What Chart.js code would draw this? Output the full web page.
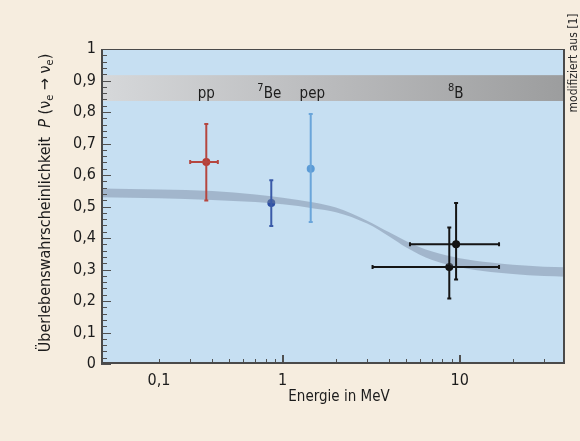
<!DOCTYPE html>
<html>
<head>
<meta charset="utf-8">
<script src="https://cdn.jsdelivr.net/npm/chart.js@4.4.0/dist/chart.umd.min.js"></script>
<style>
  html, body { margin: 0; padding: 0; background: #f6eddf; }
  #wrap { width: 580px; height: 441px; }
</style>
</head>
<body>
<div id="wrap"><canvas id="chart" width="580" height="441"></canvas></div>
<script>
// measured neutrino sources
const sourceNames = ['pp', '7Be', 'pep', '8B', '8B'];
const energy = [0.37, 0.862, 1.44, 9.55, 8.74];
const energyLow = [0.30, null, null, 5.24, 3.22];
const energyHigh = [0.43, null, null, 16.7, 16.7];
const survival = [0.641, 0.511, 0.62, 0.38, 0.308];
const survivalLow = [0.519, 0.438, 0.451, 0.268, 0.208];
const survivalHigh = [0.762, 0.583, 0.794, 0.511, 0.433];

// theory band (MSW prediction)
const theoryE = [0.094, 0.2, 0.4, 0.7, 1, 1.5, 2, 3, 4, 5, 7, 10, 15, 20, 30, 39.4];
const theoryHigh = [0.557, 0.554, 0.549, 0.538, 0.528, 0.513, 0.497, 0.455, 0.418, 0.39, 0.357, 0.336, 0.322, 0.315, 0.309, 0.307];
const theoryLow = [0.529, 0.526, 0.521, 0.514, 0.507, 0.494, 0.482, 0.446, 0.405, 0.37, 0.33, 0.307, 0.292, 0.286, 0.279, 0.277];

// grey source band at top and its labels
const bandLow = 0.835;
const bandHigh = 0.917;
const bandLabels = ['pp', '7Be', 'pep', '8B'];
const bandLabelE = [0.37, 0.84, 1.47, 9.5];

// axis ticks (as printed in the figure)
const xTickValues = [0.2, 1, 10];
const xTickLabels = ['0,1', '1', '10'];
const xMinorTicks = [0.2, 0.3, 0.4, 0.5, 0.6, 0.7, 0.8, 0.9, 2, 3, 4, 5, 6, 7, 8, 9, 20, 30];
const xMajorTicks = [1, 10];

const FONT = "'Liberation Sans Narrow', 'DejaVu Sans Condensed', sans-serif";
const pointColors = ['#b83a32', '#2d4ea3', '#5b9bd6', '#111111', '#111111'];
const barColors = ['#b5463f', '#3a5aa8', '#6aa5da', '#151515', '#151515'];

Chart.defaults.font.family = FONT;

const decor = {
  id: 'decor',
  beforeDraw(chart) {
    const { ctx, chartArea: a } = chart;
    ctx.save();
    ctx.fillStyle = '#c6dff2';
    ctx.fillRect(a.left, a.top, a.right - a.left, a.bottom - a.top);
    ctx.restore();
  },
  beforeDatasetsDraw(chart) {
    const { ctx, chartArea: a, scales } = chart;
    const y1 = scales.y.getPixelForValue(bandHigh);
    const y2 = scales.y.getPixelForValue(bandLow);
    const g = ctx.createLinearGradient(a.left, 0, a.right, 0);
    g.addColorStop(0, '#d6d8da');
    g.addColorStop(0.45, '#bcbdbf');
    g.addColorStop(1, '#9c9d9e');
    ctx.save();
    ctx.fillStyle = g;
    ctx.fillRect(a.left, y1, a.right - a.left - 2, y2 - y1);
    // labels
    ctx.fillStyle = '#1c1c1c';
    ctx.textBaseline = 'alphabetic';
    const base = (y1 + y2) / 2 + 10;
    bandLabels.forEach((lab, i) => {
      const px = scales.x.getPixelForValue(bandLabelE[i]);
      const m = lab.match(/^(\d*)(.*)$/);
      ctx.font = `11px ${FONT}`;
      const w1 = ctx.measureText(m[1]).width;
      ctx.font = `15px ${FONT}`;
      const w2 = ctx.measureText(m[2]).width;
      let x = px - (w1 + w2) / 2;
      if (m[1]) {
        ctx.font = `11px ${FONT}`;
        ctx.fillText(m[1], x, base - 7);
        x += w1;
      }
      ctx.font = `15px ${FONT}`;
      ctx.fillText(m[2], x, base);
    });
    ctx.restore();
  },
  afterDatasetDraw(chart, args) {
    if (args.index !== 1) return;
    const { ctx, scales } = chart;
    ctx.save();
    ctx.lineWidth = 2;
    energy.forEach((e, i) => {
      ctx.strokeStyle = barColors[i];
      const px = scales.x.getPixelForValue(e);
      const py = scales.y.getPixelForValue(survival[i]);
      const yt = scales.y.getPixelForValue(survivalHigh[i]);
      const yb = scales.y.getPixelForValue(survivalLow[i]);
      ctx.beginPath();
      ctx.moveTo(px, yt); ctx.lineTo(px, yb);
      ctx.moveTo(px - 2, yt); ctx.lineTo(px + 2, yt);
      ctx.moveTo(px - 2, yb); ctx.lineTo(px + 2, yb);
      if (energyLow[i] != null) {
        const xl = scales.x.getPixelForValue(energyLow[i]);
        const xr = scales.x.getPixelForValue(energyHigh[i]);
        ctx.moveTo(xl, py); ctx.lineTo(xr, py);
        ctx.moveTo(xl, py - 2); ctx.lineTo(xl, py + 2);
        ctx.moveTo(xr, py - 2); ctx.lineTo(xr, py + 2);
      }
      ctx.stroke();
    });
    ctx.restore();
  },
  afterDraw(chart) {
    const { ctx, chartArea: a, scales } = chart;
    ctx.save();
    // tick marks pointing inward
    ctx.strokeStyle = '#505050';
    ctx.lineWidth = 1;
    ctx.beginPath();
    for (let k = 0; k <= 50; k++) {
      const py = Math.round(scales.y.getPixelForValue(k * 0.02)) + 0.5;
      const len = k % 5 === 0 ? 10 : 6;
      ctx.moveTo(a.left, py); ctx.lineTo(a.left + len, py);
    }
    xMinorTicks.forEach(v => {
      const px = Math.round(scales.x.getPixelForValue(v)) + 0.5;
      ctx.moveTo(px, a.bottom); ctx.lineTo(px, a.bottom - 5);
    });
    ctx.stroke();
    ctx.lineWidth = 2;
    ctx.beginPath();
    xMajorTicks.forEach(v => {
      const px = Math.round(scales.x.getPixelForValue(v));
      ctx.moveTo(px, a.bottom); ctx.lineTo(px, a.bottom - 9);
    });
    ctx.stroke();
    // frame
    ctx.strokeStyle = '#4a4a4a';
    ctx.lineWidth = 1;
    ctx.strokeRect(a.left + 0.5, a.top + 0.5, a.right - a.left - 1, a.bottom - a.top - 1);
    ctx.lineWidth = 2;
    ctx.beginPath();
    ctx.moveTo(a.left + 1, a.top); ctx.lineTo(a.left + 1, a.bottom);
    ctx.moveTo(a.left, a.bottom - 1); ctx.lineTo(a.right, a.bottom - 1);
    ctx.moveTo(a.right - 1, a.top); ctx.lineTo(a.right - 1, a.bottom);
    ctx.stroke();

    // axis titles
    ctx.fillStyle = '#1c1c1c';
    ctx.textBaseline = 'middle';
    ctx.textAlign = 'center';
    ctx.font = `15px ${FONT}`;
    ctx.fillText('Energie in MeV', 339, 397);

    ctx.textAlign = 'left';
    const parts = [
      { t: 'Überlebenswahrscheinlichkeit', f: `16px ${FONT}`, dy: 0 },
      { t: '  ', f: `16px ${FONT}`, dy: 0 },
      { t: 'P', f: `italic 16px ${FONT}`, dy: 0 },
      { t: ' (ν', f: `16px ${FONT}`, dy: 0 },
      { t: 'e', f: `11px ${FONT}`, dy: 4 },
      { t: ' → ν', f: `16px ${FONT}`, dy: 0 },
      { t: 'e', f: `11px ${FONT}`, dy: 4 },
      { t: ')', f: `16px ${FONT}`, dy: 0 }
    ];
    let total = 0;
    parts.forEach(p => { ctx.font = p.f; p.w = ctx.measureText(p.t).width; total += p.w; });
    ctx.translate(46, 203);
    ctx.rotate(-Math.PI / 2);
    let x = -total / 2;
    parts.forEach(p => { ctx.font = p.f; ctx.fillText(p.t, x, p.dy); x += p.w; });
    ctx.restore();

    // source note at the right edge
    ctx.save();
    ctx.fillStyle = '#2a2a2a';
    ctx.font = `12px ${FONT}`;
    ctx.textAlign = 'center';
    ctx.textBaseline = 'middle';
    ctx.translate(574, 63);
    ctx.rotate(-Math.PI / 2);
    ctx.fillText('modifiziert aus [1]', 0, 0);
    ctx.restore();
  }
};

const pointSets = energy.map((e, i) => ({
  label: sourceNames[i],
  data: [{ x: e, y: survival[i] }],
  pointRadius: 4,
  pointHoverRadius: 4,
  pointBackgroundColor: pointColors[i],
  pointBorderWidth: 0,
  showLine: false
}));

new Chart(document.getElementById('chart'), {
  type: 'scatter',
  data: {
    datasets: [
      {
        label: 'theory high',
        data: theoryE.map((e, i) => ({ x: e, y: theoryHigh[i] })),
        showLine: true, borderWidth: 0, pointRadius: 0, fill: false,
        cubicInterpolationMode: 'monotone'
      },
      {
        label: 'theory low',
        data: theoryE.map((e, i) => ({ x: e, y: theoryLow[i] })),
        showLine: true, borderWidth: 0, pointRadius: 0, fill: '-1',
        backgroundColor: 'rgba(118,134,158,0.45)',
        cubicInterpolationMode: 'monotone'
      },
      ...pointSets
    ]
  },
  options: {
    responsive: false,
    animation: false,
    layout: { padding: { left: 0, top: 49, right: 15, bottom: 0 } },
    plugins: { legend: { display: false }, tooltip: { enabled: false } },
    scales: {
      x: {
        type: 'logarithmic',
        min: 0.094,
        max: 39.4,
        grid: { display: false, drawTicks: false },
        border: { display: false },
        afterBuildTicks: s => { s.ticks = xTickValues.map(v => ({ value: v })); },
        afterFit: s => { s.height = 77; },
        ticks: {
          autoSkip: false,
          maxRotation: 0,
          padding: 7,
          color: '#1c1c1c',
          font: { size: 16 },
          callback: (v, i) => xTickLabels[i]
        }
      },
      y: {
        min: 0,
        max: 1,
        grid: { display: false, drawTicks: false },
        border: { display: false },
        afterFit: s => { s.width = 101; },
        ticks: {
          stepSize: 0.1,
          padding: 5,
          color: '#1c1c1c',
          font: { size: 16 },
          callback: v => {
            const r = Math.round(v * 10) / 10;
            return r === 0 || r === 1 ? String(r) : r.toFixed(1).replace('.', ',');
          }
        }
      }
    }
  },
  plugins: [decor]
});
</script>
</body>
</html>
